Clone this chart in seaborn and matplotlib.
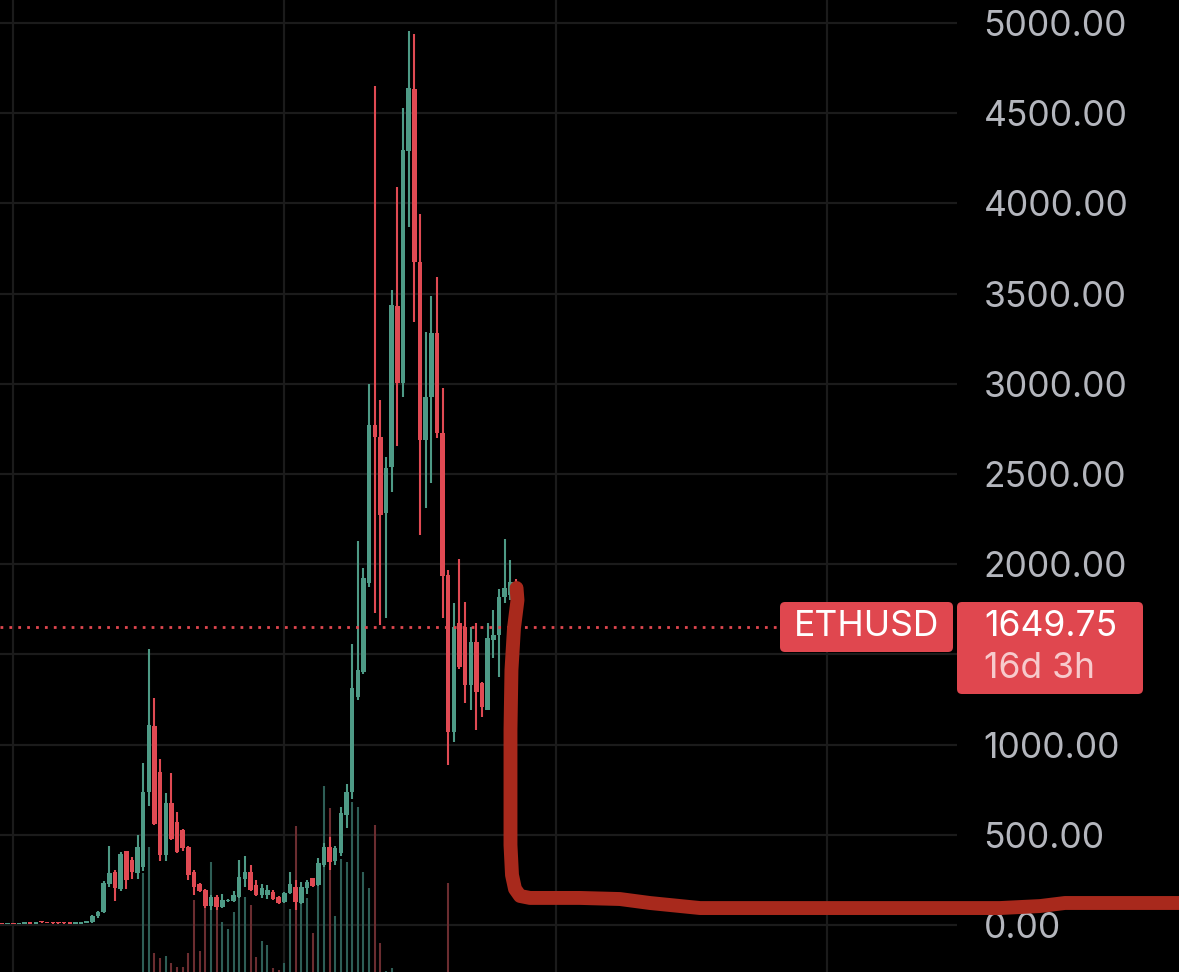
import numpy as np
import matplotlib
matplotlib.use("Agg")
import matplotlib.pyplot as plt
import seaborn as sns
from matplotlib.patches import FancyBboxPatch

# ---------------- data ----------------
opens = [5, 4, 5, 4, 6, 7, 7, 16, 13, 11, 10, 11, 9, 7, 8, 12, 15, 52, 72, 230,
         294, 200, 410, 360, 288, 321, 737, 1103, 848, 388, 676, 571, 527, 432, 294, 227, 194, 105, 155, 100,
         133, 133, 155, 255, 294, 222, 166, 166, 183, 155, 127, 177, 211, 122, 205, 260, 222, 332, 432, 355,
         400, 610, 735, 1264, 1403, 1896, 2772, 2705, 2283, 2539, 3431, 3004, 4290, 4634, 3675, 2688, 2927, 3282, 2727, 1940,
         1070, 1674, 1652, 1330, 1569, 1341, 1192, 1580, 1608, 1818, 1829, 1870]
highs = [6, 6, 5, 7, 8, 9, 12, 19, 14, 12, 12, 13, 10, 9, 13, 18, 58, 80, 243, 438,
         305, 405, 412, 377, 498, 898, 1530, 1258, 920, 732, 842, 624, 532, 440, 305, 235, 200, 166, 166, 171,
         144, 188, 360, 382, 332, 250, 227, 222, 194, 158, 183, 294, 249, 238, 249, 262, 371, 453, 488, 440,
         654, 782, 1560, 2129, 1979, 3000, 4651, 2910, 2594, 3520, 4091, 4529, 4955, 4939, 3941, 3287, 3487, 3592, 2977, 1968,
         1785, 2029, 1790, 1652, 1674, 1345, 1674, 1746, 1862, 2140, 2023, 1918]
lows = [3, 3, 3, 4, 5, 5, 6, 12, 9, 7, 8, 8, 6, 6, 8, 11, 12, 40, 68, 210,
        133, 190, 200, 255, 255, 299, 660, 554, 355, 355, 470, 400, 410, 249, 166, 185, 94, 83, 83, 95,
        128, 125, 150, 211, 188, 160, 150, 145, 140, 118, 122, 172, 83, 115, 170, 210, 215, 320, 305, 335,
        380, 537, 700, 1247, 1390, 1874, 1730, 1663, 1702, 2400, 2655, 2927, 3869, 3343, 2162, 2311, 2450, 2700, 1702, 887,
        1014, 1420, 1231, 1192, 1081, 1153, 1190, 1480, 1374, 1785, 1800, 1640]
closes = [4, 5, 4, 6, 7, 6, 11, 14, 11, 9, 9, 10, 7, 8, 12, 17, 52, 72, 233, 290,
          205, 394, 249, 294, 432, 737, 1109, 560, 388, 676, 477, 405, 427, 277, 211, 188, 105, 155, 100, 139,
          139, 166, 266, 294, 194, 166, 205, 194, 144, 122, 177, 227, 127, 211, 238, 216, 344, 432, 349, 427,
          621, 735, 1314, 1414, 1923, 2772, 2705, 2273, 2533, 3437, 3004, 4296, 4640, 3675, 2688, 2927, 3282, 2727, 1935, 1070,
          1652, 1430, 1330, 1569, 1292, 1208, 1591, 1607, 1818, 1868, 1901, 1649.75]
volumes = [0] * 25 + [99, 125, 19, 14, 16, 9, 5, 5, 19, 72, 21, 64, 110, 65, 50, 43, 60, 112, 75, 67,
                      15, 31, 27, 4, 2, 9, 63, 146, 70, 74, 39, 86, 186, 164, 56, 113, 110, 170, 165, 100,
                      84, 147, 29, 1, 4] + [0] * 9 + [89] + [0] * 12
year_gridlines = [2, 50, 98, 146]          # candle index of year boundaries
price_ticks = list(range(0, 5001, 500))
hidden_tick = 1500                         # label covered by the price badge
symbol = "ETHUSD"
last_price = 1649.75
countdown = "16d 3h"
# hand-drawn annotation stroke (candle index, price)
draw_x = [91.1, 91.27, 90.65, 90.2, 90.03, 90.03, 90.3, 90.83, 91.71, 93.48, 102.3, 109.4, 114.7, 123.6,
          176.7, 183.8, 188.2, 208.4]
draw_y = [1868, 1801, 1646, 1413, 1081, 443, 277, 200, 161, 150, 150, 144, 122, 94, 94, 105, 122, 122]

# ---------------- style ----------------
sns.set_theme(style="dark")
plt.rcParams['font.family'] = ['Inter', 'DejaVu Sans']
BG = '#000000'
UP = '#4E9A86'
DOWN = '#E04A53'
UP_VOL = '#2E5E56'
DOWN_VOL = '#6B2D30'
GRID = '#1b1b1b'
LABEL = '#B4B6BD'
BADGE = '#E0474F'

W, H = 1179, 972
fig = plt.figure(figsize=(W / 100, H / 100), dpi=100, facecolor=BG)
ax = fig.add_axes([0, 0, 957 / W, 1])
ax.set_facecolor(BG)

n = len(closes)
xs = np.arange(n)
o = np.array(opens, float); h = np.array(highs, float)
l = np.array(lows, float); c = np.array(closes, float)
up = c >= o
cols = np.where(up, UP, DOWN)

# volume (bottom pane, axes-fraction heights)
vcols = np.where(up, UP_VOL, DOWN_VOL)
vol = np.array(volumes, float) / 972.0
mask = vol > 0
ax.vlines(xs[mask], 0, vol[mask], colors=vcols[mask], linewidth=1.5,
          transform=ax.get_xaxis_transform(), zorder=2)

# candles
ax.vlines(xs, l, h, colors=cols, linewidth=1.5, zorder=3)
body_bottom = np.minimum(o, c)
body_h = np.maximum(np.abs(c - o), 8)
ax.bar(xs, body_h, bottom=body_bottom, width=0.8, color=cols, linewidth=0, zorder=4)

# last price dotted line
ax.axhline(last_price, xmin=0, xmax=780 / 957, color=BADGE, linewidth=2,
           linestyle=(0, (1, 2.2)), zorder=5)

# hand drawn stroke
sns.lineplot(x=draw_x, y=draw_y, sort=False, estimator=None, color='#A8291C',
             linewidth=10, ax=ax, zorder=10)
stroke = ax.lines[-1]
stroke.set_clip_on(False)
stroke.set_solid_capstyle('round')
stroke.set_solid_joinstyle('round')

# axes
ax.set_xlim(-2 / 5.648, (957 - 2) / 5.648)
ax.set_ylim(-(972 - 925) / 0.1804, 925 / 0.1804)
ax.set_xticks(year_gridlines)
ax.set_yticks(price_ticks)
ax.set_yticklabels(['' if t == hidden_tick else f"{t:.2f}" for t in price_ticks])
ax.yaxis.tick_right()
ax.tick_params(axis='x', length=0, labelbottom=False)
ax.tick_params(axis='y', length=0, pad=19, labelsize=25.5, labelcolor=LABEL)
ax.grid(True, color=GRID, linewidth=1.6)
ax.set_axisbelow(True)
for s in ax.spines.values():
    s.set_visible(False)
ax.set_xlabel(''); ax.set_ylabel('')

# price badges
tr = fig.dpi_scale_trans
b1 = FancyBboxPatch((7.80, (H - 652) / 100), 1.73, 0.50,
                    boxstyle="round,pad=0,rounding_size=0.05", transform=tr,
                    facecolor=BADGE, edgecolor='none', zorder=20)
b2 = FancyBboxPatch((9.57, (H - 694) / 100), 1.86, 0.92,
                    boxstyle="round,pad=0,rounding_size=0.05", transform=tr,
                    facecolor=BADGE, edgecolor='none', zorder=20)
fig.add_artist(b1)
fig.add_artist(b2)
fig.text(866.5 / W, 1 - 627 / H, symbol, ha='center', va='center', fontsize=25.5,
         color='white', zorder=21)
fig.text(984 / W, 1 - 627 / H, f"{last_price:.2f}", ha='left', va='center', fontsize=25.5,
         color='white', zorder=21)
fig.text(984 / W, 1 - 668 / H, countdown, ha='left', va='center', fontsize=25.5,
         color='#F7CACC', zorder=21)

fig.savefig('out.png', dpi=100, facecolor=BG)
